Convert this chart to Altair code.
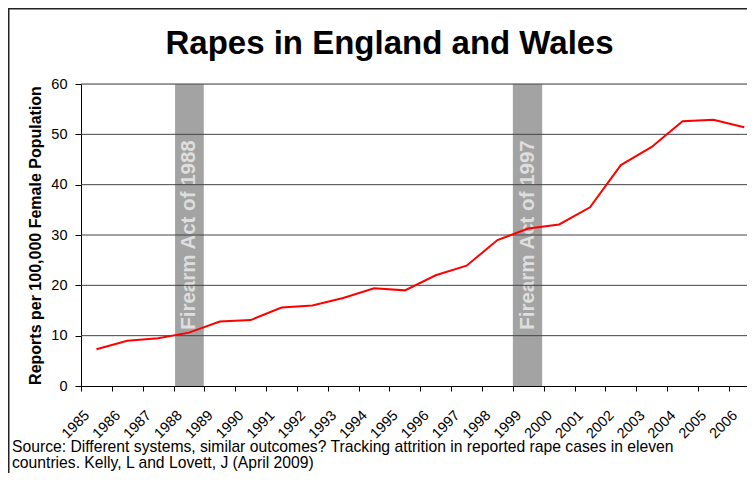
import altair as alt
import pandas as pd

# ---- data ----
years = list(range(1985, 2007))
rates = [7.3, 9.0, 9.5, 10.6, 12.8, 13.1, 15.6, 16.0, 17.5, 19.4, 19.0,
         22.0, 23.9, 29.0, 31.3, 32.1, 35.5, 43.9, 47.5, 52.6, 52.9, 51.4]
band_start = [1988.05, 1999.0]
band_end = [1988.98, 1999.95]
band_labels = ["Firearm Act of 1988", "Firearm Act of 1997"]
band_label_y = [30, 30]
grid_values = [10, 20, 30, 40, 50, 60]
y_ticks = [0, 10, 20, 30, 40, 50, 60]
title_text = "Rapes in England and Wales"
y_title = "Reports per 100,000 Female Population"
source_lines = [
    "Source: Different systems, similar outcomes? Tracking attrition in reported rape cases in eleven",
    "countries. Kelly, L and Lovett, J (April 2009)",
]

FONT = "Liberation Sans"
W, H = 666, 302

df = pd.DataFrame({"year": years, "rate": rates})
bands = pd.DataFrame({"start": band_start, "end": band_end,
                      "label": band_labels, "ly": band_label_y})
bands["mid"] = (bands["start"] + bands["end"]) / 2
grid = pd.DataFrame({"v": grid_values})

xscale = alt.Scale(domain=[1985, 2006.59], nice=False, zero=False)
yscale = alt.Scale(domain=[0, 60], nice=False, zero=True)

xaxis = alt.Axis(values=years, format="d", labelAngle=-45, labelAlign="right",
                 labelBaseline="middle", labelPadding=22, labelOffset=6,
                 tickSize=5, grid=False, title=None, labelFontSize=14.5,
                 labelFont=FONT, labelColor="black", domainColor="black",
                 tickColor="black", labelOverlap=False, labelFlush=False,
                 labelBound=False)
yaxis = alt.Axis(values=y_ticks, grid=False, tickSize=6, labelPadding=8,
                 labelFontSize=14.5, labelFont=FONT, labelColor="black",
                 domainColor="black", tickColor="black", title=y_title,
                 titleFont=FONT, titleFontSize=16, titleFontWeight="bold",
                 titleColor="black", titlePadding=7)

frame = alt.Chart(alt.Data(values=[{"a": 1}])).mark_rect(
    filled=False, stroke="#222222", strokeWidth=1.5
).encode(x=alt.value(-72.25), x2=alt.value(720),
         y=alt.value(-75.25), y2=alt.value(460))

band_rect = alt.Chart(bands).mark_rect(color="#a3a3a3").encode(
    x=alt.X("start:Q", scale=xscale, axis=xaxis),
    x2="end:Q",
    y=alt.Y(datum=0, scale=yscale, axis=yaxis),
    y2=alt.Y2(datum=60),
)

band_text = alt.Chart(bands).mark_text(
    angle=270, fontSize=20.5, fontWeight="bold", font=FONT, color="#dedede",
    align="center", baseline="middle"
).encode(
    x=alt.X("mid:Q", scale=xscale, axis=xaxis),
    y=alt.Y("ly:Q", scale=yscale, axis=yaxis),
    text="label:N",
)

rules = alt.Chart(grid).mark_rule(color="#444444", strokeWidth=1).encode(
    y=alt.Y("v:Q", scale=yscale, axis=yaxis)
)

line = alt.Chart(df).transform_calculate(xpos="datum.year + 0.5").mark_line(
    color="#ff0000", strokeWidth=2
).encode(
    x=alt.X("xpos:Q", scale=xscale, axis=xaxis),
    y=alt.Y("rate:Q", scale=yscale, axis=yaxis),
)

title = alt.Chart(alt.Data(values=[{"a": 1}])).mark_text(
    text=title_text, fontSize=33, fontWeight="bold", font=FONT, color="black",
    align="center", baseline="alphabetic"
).encode(x=alt.value(308.5), y=alt.value(-29.7))

source = alt.Chart(alt.Data(values=[{"a": 1}])).mark_text(
    text=source_lines, fontSize=15.7, font=FONT, color="black", align="left",
    baseline="alphabetic", lineHeight=16
).encode(x=alt.value(-69), y=alt.value(368))

chart = alt.layer(frame, band_rect, band_text, rules, line, title, source).properties(
    width=W, height=H,
    autosize=alt.AutoSizeParams(type="none"),
    padding={"left": 73, "top": 76, "right": 0, "bottom": 87},
).configure_view(stroke=None).configure(background="white")

chart.save("out.html", embed_options={"renderer": "svg", "actions": False})
